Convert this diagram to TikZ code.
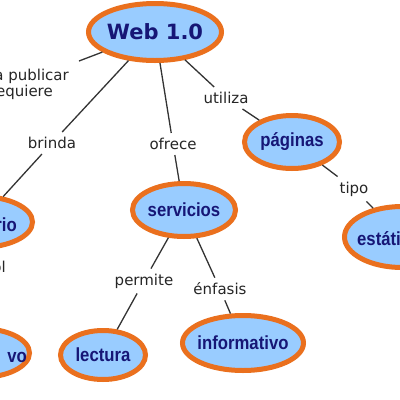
\documentclass[tikz,border=0pt]{standalone}
\usepackage{fontspec}
\setmainfont{DejaVu Sans}
\newfontfamily\nodefont[FakeStretch=0.88]{Liberation Sans}
\newfontfamily\webfont{DejaVu Sans}
\usetikzlibrary{shapes.geometric}
\definecolor{fillblue}{RGB}{153,204,255}
\definecolor{borderorange}{RGB}{234,112,30}
\definecolor{navy}{RGB}{22,22,118}
\tikzset{
  concept/.style={ellipse, draw=borderorange, fill=fillblue, line width=5pt, inner sep=0pt},
  conceptlabel/.style={font=\nodefont\bfseries\fontsize{19}{22}\selectfont, text=navy, inner sep=0pt},
  linklabel/.style={font=\fontsize{15}{18}\selectfont, text=black!85, inner sep=5pt},
  fraglabel/.style={font=\fontsize{15}{18}\selectfont, text=black!85, inner sep=0pt},
  link/.style={line width=1.3pt, draw=black!80},
}
\begin{document}
\begin{tikzpicture}[x=1pt, y=-1pt]
\path[use as bounding box, clip] (0,0) rectangle (400,400);
\fill[white] (0,0) rectangle (400,400);

% concepts
\node[concept, minimum width=133pt, minimum height=57pt,
      label={[font=\webfont\bfseries\fontsize{21}{24}\selectfont, text=navy]center:Web 1.0}] (web) at (155,32) {};
\node[concept, minimum width=95pt, minimum height=53pt,
      label={[conceptlabel]center:páginas}] (pag) at (292,142) {};
\node[concept, minimum width=103pt, minimum height=53pt,
      label={[conceptlabel]center:servicios}] (serv) at (184,210) {};
\node[concept, minimum width=115pt, minimum height=61pt] (est) at (402,237) {};
\node[concept, minimum width=105pt, minimum height=51pt] (rio) at (-20,222) {};
\node[concept, minimum width=99pt, minimum height=49pt] (vo) at (-20,353) {};
\node[concept, minimum width=85pt, minimum height=49pt,
      label={[conceptlabel]center:lectura}] (lect) at (103,355) {};
\node[concept, minimum width=121pt, minimum height=55pt,
      label={[conceptlabel]center:informativo}] (inf) at (243,343) {};

% partial concept texts
\node[conceptlabel, anchor=base east] (riotext) at (17,231) {rio};
\node[conceptlabel, anchor=base east] (votext) at (27,362) {vo};
\node[conceptlabel, anchor=base west] (esttext) at (357,245) {estáti};

% link labels
\node[linklabel] (brinda) at (52,143) {brinda};
\node[linklabel] (ofrece) at (173,144) {ofrece};
\node[linklabel] (utiliza) at (226,98) {utiliza};
\node[linklabel] (tipo) at (354,189) {tipo};
\node[linklabel] (permite) at (144,281) {permite};
\node[linklabel] (enfasis) at (220,289) {énfasis};

% partial link labels
\node[fraglabel, anchor=base east] (pub1) at (69,80) {a publicar};
\node[fraglabel, anchor=base east] (pub2) at (53,96) {equiere};
\node[fraglabel, anchor=base east] (oltext) at (6,272) {ol};
\coordinate (pubend) at (79,61);

% connectors
\draw[link] (web) -- (pubend);
\draw[link] (web) -- (brinda);
\draw[link] (brinda) -- (rio);
\draw[link] (web) -- (ofrece);
\draw[link] (ofrece) -- (serv);
\draw[link] (web) -- (utiliza);
\draw[link] (utiliza) -- (pag);
\draw[link] (pag) -- (tipo);
\draw[link] (tipo) -- (est);
\draw[link] (serv) -- (permite);
\draw[link] (permite) -- (lect);
\draw[link] (serv) -- (enfasis);
\draw[link] (enfasis) -- (inf);
\end{tikzpicture}
\end{document}
